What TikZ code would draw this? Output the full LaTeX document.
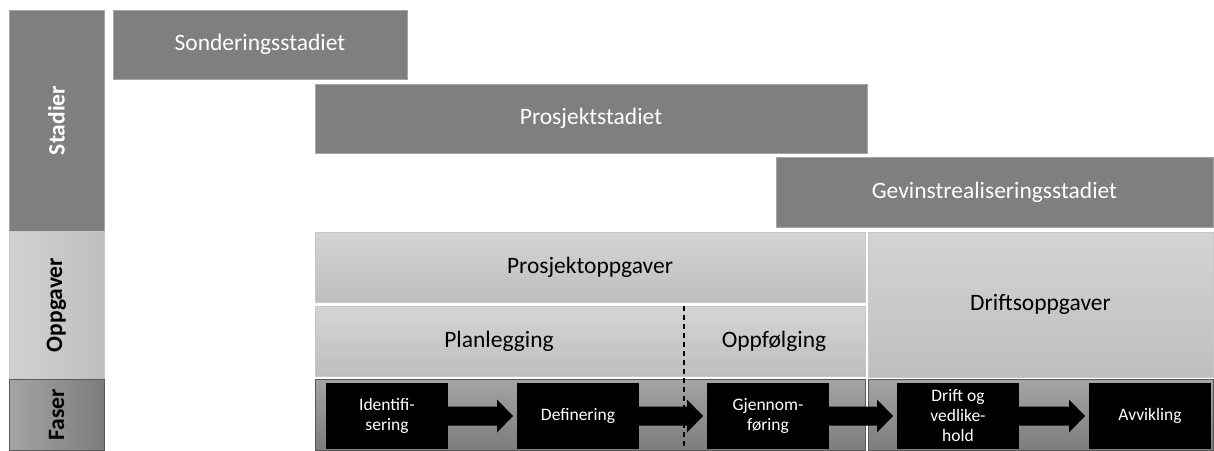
\documentclass[tikz,border=0pt]{standalone}
\usepackage{fontspec}
\setmainfont{Carlito}
\usetikzlibrary{calc}
\definecolor{stagegray}{HTML}{7F7F7F}
\definecolor{stageedge}{HTML}{A6A6A6}
\definecolor{tasktop}{HTML}{D4D4D4}
\definecolor{taskbot}{HTML}{BEBEBE}
\definecolor{taskedge}{HTML}{C8C8C8}
\definecolor{phasetop}{HTML}{A4A4A4}
\definecolor{phasebot}{HTML}{7C7C7C}
\definecolor{phaseedge}{HTML}{5A5A5A}
\tikzset{
  box/.style={inner sep=0pt, outer sep=0pt, anchor=north west, align=center},
  stagebox/.style={box, fill=stagegray, draw=stageedge, line width=0.6pt,
    text=white, font=\fontsize{23.5}{26}\selectfont},
  taskbox/.style={box, top color=tasktop, bottom color=taskbot, draw=taskedge,
    line width=0.6pt, font=\fontsize{23.5}{26}\selectfont},
  phasebox/.style={box, top color=phasetop, bottom color=phasebot, draw=phaseedge,
    line width=0.6pt},
  stepbox/.style={box, fill=black, text=white, minimum width=122pt, minimum height=66pt,
    font=\fontsize{17.5}{20}\selectfont},
  rowlabel/.style={rotate=90, font=\bfseries\fontsize{23.5}{26}\selectfont},
  plain/.style={font=\fontsize{23.5}{26}\selectfont},
}
% block arrow between two step boxes
\newcommand\steparrow[2]{%
  \path let \p1=(#1.east), \p2=(#2.west) in
    [fill=black] ({\x1},{\y1+9.5pt}) -- ({\x2-20pt},{\y1+9.5pt}) -- ({\x2-20pt},{\y1+16.5pt})
    -- ({\x2-4pt},{\y1}) -- ({\x2-20pt},{\y1-16.5pt}) -- ({\x2-20pt},{\y1-9.5pt})
    -- ({\x1},{\y1-9.5pt}) -- cycle;}
\begin{document}
\begin{tikzpicture}[x=1pt, y=-1pt]
\useasboundingbox (0,0) rectangle (1214,450);

% row labels on the left
\node[box, fill=stagegray, draw=stageedge, line width=0.6pt,
  minimum width=95pt, minimum height=221pt] (stadierbox) at (9,10) {};
\node[rowlabel, text=white] (stadier) at (stadierbox.center) {Stadier};
\node[box, left color=tasktop!105, right color=taskbot, draw=taskedge, line width=0.6pt,
  minimum width=95pt, minimum height=148pt] (oppgaverbox) at (9,231) {};
\node[rowlabel] (oppgaver) at (oppgaverbox.center) {Oppgaver};
\node[box, left color=phasetop, right color=phasebot, draw=phaseedge, line width=0.6pt,
  minimum width=95pt, minimum height=71pt] (faserbox) at (9,379) {};
\node[rowlabel] (faser) at (faserbox.center) {Faser};

% stages
\node[stagebox, minimum width=294pt, minimum height=69pt] (sond) at (113,10) {Sonderingsstadiet};
\node[stagebox, minimum width=552pt, minimum height=69pt] (prosj) at (315,84) {Prosjektstadiet};
\node[stagebox, minimum width=437pt, minimum height=70pt] (gevinst) at (776,157) {Gevinstrealiseringsstadiet};

% tasks
\node[taskbox, minimum width=550pt, minimum height=70pt] (poppg) at (315,232) {Prosjektoppgaver};
\node[taskbox, minimum width=345pt, minimum height=145pt] (doppg) at (868,232) {Driftsoppgaver};
\node[taskbox, minimum width=550pt, minimum height=70pt] (sub) at (315,306) {};
\node[plain] (plan) at (499,341) {Planlegging};
\node[plain] (oppf) at (774,341) {Oppfølging};

% phases
\node[phasebox, minimum width=550pt, minimum height=71pt] (pcont) at (315,379) {};
\node[phasebox, minimum width=345pt, minimum height=71pt] (dcont) at (868,379) {};
\node[stepbox] (ident) at (326,383) {Identifi-\\sering};
\node[stepbox] (def) at (517,383) {Definering};
\node[stepbox] (gjen) at (707,383) {Gjennom-\\føring};
\node[stepbox] (drift) at (897,383) {Drift og\\vedlike-\\hold};
\node[stepbox] (avv) at (1089,383) {Avvikling};

\steparrow{ident}{def}
\steparrow{def}{gjen}
\steparrow{gjen}{drift}
\steparrow{drift}{avv}

% split between planning and follow-up
\coordinate (splittop) at (684,306);
\coordinate (splitbot) at (684,447);
\draw[line width=1.2pt, dash pattern=on 5pt off 4pt] (splittop) -- (splitbot);
\end{tikzpicture}
\end{document}
